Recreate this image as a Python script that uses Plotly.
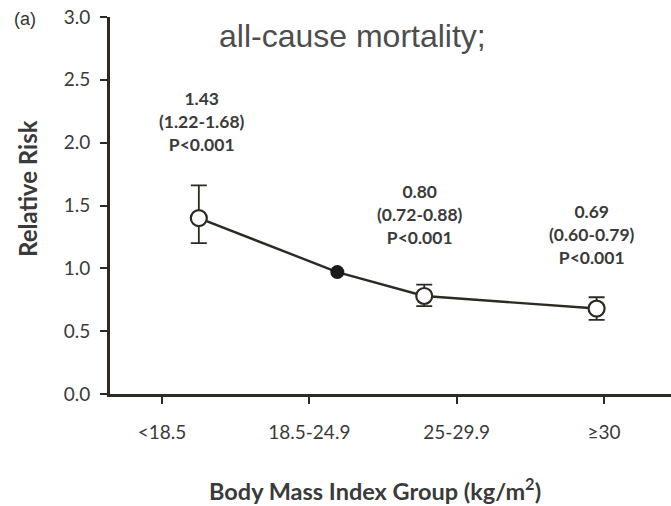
import plotly.graph_objects as go

categories = ["<18.5", "18.5-24.9", "25-29.9", "≥30"]
tick_pos = [0, 1, 2, 3]
x_pos = [0.25, 1.19, 1.78, 2.95]
rr = [1.40, 0.97, 0.78, 0.68]
ci_low = [1.20, 0.97, 0.70, 0.59]
ci_high = [1.66, 0.97, 0.87, 0.77]
labels = ["<b>1.43<br>(1.22-1.68)<br>P<0.001</b>", None,
          "<b>0.80<br>(0.72-0.88)<br>P<0.001</b>", "<b>0.69<br>(0.60-0.79)<br>P<0.001</b>"]
label_x = [0.27, None, 1.75, 2.92]
label_y = [2.17, None, 1.43, 1.27]

ink = "#2e2a22"
txt = "#3a3a3a"
font_txt = "Lato, 'Open Sans', sans-serif"

L, T, W, H = 110, 17, 561, 377


def px(x):
    return (x - L) / W


def py(y):
    return (T + H - y) / H


fig = go.Figure()
fig.add_trace(go.Scatter(x=x_pos, y=rr, mode="lines", line=dict(color=ink, width=2.4),
                         hoverinfo="skip", showlegend=False))
open_idx = [0, 2, 3]
fig.add_trace(go.Scatter(
    x=[x_pos[i] for i in open_idx], y=[rr[i] for i in open_idx], mode="markers",
    marker=dict(symbol="circle", size=16, color="white", line=dict(color=ink, width=2.2)),
    error_y=dict(type="data", symmetric=False,
                 array=[ci_high[i] - rr[i] for i in open_idx],
                 arrayminus=[rr[i] - ci_low[i] for i in open_idx],
                 color=ink, thickness=1.8, width=8),
    showlegend=False))
fig.add_trace(go.Scatter(x=[x_pos[1]], y=[rr[1]], mode="markers",
                         marker=dict(symbol="circle", size=14, color="#1a1a1a"),
                         showlegend=False))

for t, lx, ly in zip(labels, label_x, label_y):
    if t is None:
        continue
    fig.add_annotation(x=lx, y=ly, xref="x", yref="y", text=t, showarrow=False,
                       font=dict(family=font_txt, size=17.5, color=txt), align="center")

fig.add_annotation(x=px(352), y=py(36), xref="paper", yref="paper", text="all-cause mortality;",
                   showarrow=False, xanchor="center", yanchor="middle",
                   font=dict(family="Liberation Sans, Arial", size=32, color="#4d4d4d"))
fig.add_annotation(x=px(25), y=py(19), xref="paper", yref="paper", text="(a)", showarrow=False,
                   xanchor="center", yanchor="middle",
                   font=dict(family="Liberation Sans, Arial", size=18, color="#333"))
fig.add_annotation(x=px(27), y=py(189), xref="paper", yref="paper", text="<b>Relative Risk</b>",
                   showarrow=False, textangle=-90, xanchor="center", yanchor="middle",
                   font=dict(family=font_txt, size=24, color=txt))
fig.add_annotation(x=px(375), y=py(489), xref="paper", yref="paper",
                   text="<b>Body Mass Index Group (kg/m<sup>2</sup>)</b>",
                   showarrow=False, xanchor="center", yanchor="middle",
                   font=dict(family=font_txt, size=23.5, color=txt))

fig.update_layout(
    width=671, height=506,
    margin=dict(l=L, r=0, t=T, b=506 - T - H),
    paper_bgcolor="white", plot_bgcolor="white",
    xaxis=dict(range=[-0.353, 3.455], tickvals=tick_pos, ticktext=categories,
               showgrid=False, zeroline=False, showline=True, linecolor=ink, linewidth=3,
               ticks="outside", ticklen=7, tickcolor=ink, tickwidth=1.5,
               ticklabelstandoff=12,
               tickfont=dict(family=font_txt, size=19, color=txt)),
    yaxis=dict(range=[0, 3.0], tickvals=[0, 0.5, 1.0, 1.5, 2.0, 2.5, 3.0], tickformat=".1f",
               showgrid=False, zeroline=False, showline=True, linecolor=ink, linewidth=3,
               ticks="outside", ticklen=7, tickcolor=ink, tickwidth=1.5,
               ticklabelstandoff=6,
               tickfont=dict(family=font_txt, size=19, color=txt)),
)

fig.write_html("out.html")
